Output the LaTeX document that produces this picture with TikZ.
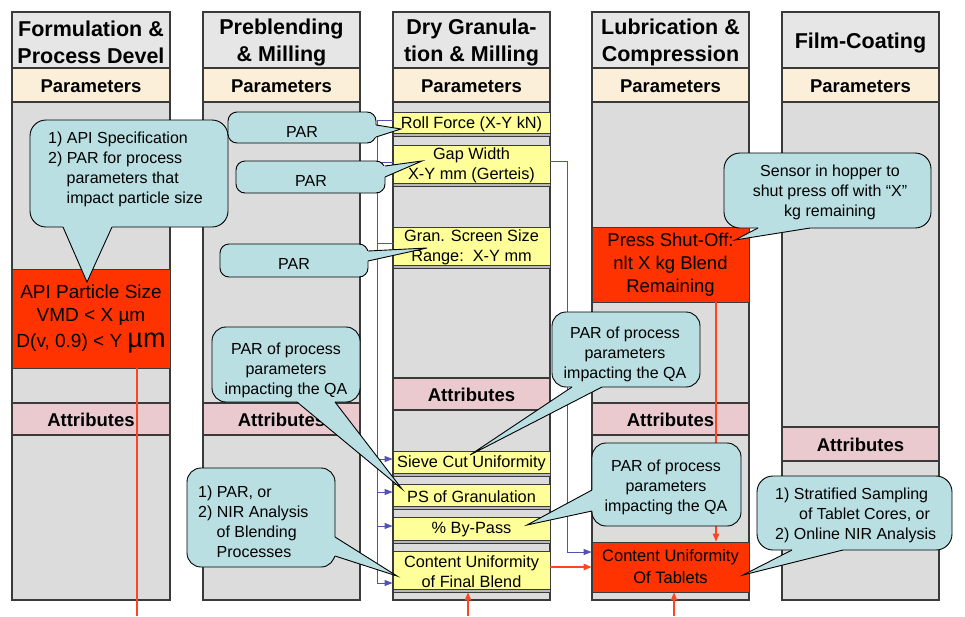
\documentclass[tikz,border=0pt]{standalone}
\usepackage{fontspec}
\setmainfont{Liberation Sans}
\usetikzlibrary{calc,arrows.meta}
\definecolor{hdr}{HTML}{E6E6E6}
\definecolor{prm}{HTML}{FBEFD9}
\definecolor{bod}{HTML}{DCDCDC}
\definecolor{att}{HTML}{EACACF}
\definecolor{yel}{HTML}{FFFF99}
\definecolor{redb}{HTML}{FF3300}
\definecolor{cal}{HTML}{B9DFE3}
\definecolor{bline}{HTML}{5252B4}
\definecolor{rline}{HTML}{FF4422}
\definecolor{edge}{HTML}{3A3A3A}
\newcommand\mycallout[7]{%
  \filldraw[callbody, rounded corners=#3] (#1) rectangle (#2);
  \fill[cal] (#4) -- (#5) -- (#6) -- ($(#6)+(#7)$) -- ($(#4)+(#7)$) -- cycle;
  \draw[callline] (#4) -- (#5) -- (#6);
}
\begin{document}
\begin{tikzpicture}[x=1pt,y=-1pt,
  colbox/.style={draw=edge, line width=1.1pt},
  bandtext/.style={font=\bfseries\fontsize{18.5}{22}\selectfont, inner sep=0pt},
  hdrtext/.style={font=\bfseries\fontsize{21.5}{27}\selectfont, align=center, inner sep=0pt},
  ybox/.style={draw=edge, line width=0.9pt, fill=yel, minimum width=157pt, inner sep=0pt, align=center,
    font=\fontsize{16.3}{20}\selectfont,
    path picture={\fill[black!28] (path picture bounding box.south west) rectangle ([yshift=3pt]path picture bounding box.south east);
      \draw[edge, line width=0.5pt] ([yshift=3pt]path picture bounding box.south west) -- ([yshift=3pt]path picture bounding box.south east);}},
  rbox/.style={draw=edge, line width=0.9pt, fill=redb, minimum width=157pt, inner sep=0pt, align=center,
    font=\fontsize{18.5}{23}\selectfont},
  callbody/.style={fill=cal, draw=black, line width=0.9pt},
  callline/.style={draw=black, line width=0.9pt, line join=miter},
  calltext/.style={font=\fontsize{16}{20}\selectfont, inner sep=0pt, align=center},
  bl/.style={draw=bline, line width=0.9pt},
  bla/.style={bl, -{Triangle[length=8pt,width=6pt]}},
  rl/.style={draw=rline, line width=1.3pt},
  rla/.style={rl, -{Triangle[length=8pt,width=6.5pt]}}
]
\fill[white] (0,0) rectangle (965,616);
\useasboundingbox (0,0) rectangle (965,616);

% columns
\foreach \xa/\xb/\at/\ab [count=\i] in {12/170/403/435, 203/360/403/435, 393/550/378/410, 592/749/403/435, 782/939/427/461}{
  \filldraw[fill=bod, colbox] (\xa,102) rectangle (\xb,600);
  \filldraw[fill=hdr, colbox] (\xa,12) rectangle (\xb,68);
  \filldraw[fill=prm, colbox] (\xa,68) rectangle (\xb,102);
  \filldraw[fill=att, colbox] (\xa,\at) rectangle (\xb,\ab);
  \node[bandtext] (par\i) at ({(\xa+\xb)/2},86) {Parameters};
  \node[bandtext] (att\i) at ({(\xa+\xb)/2},{(\at+\ab)/2+1}) {Attributes};
}

% headers
\node[hdrtext] (h1) at (91,42) {Formulation \&\\Process Devel};
\node[hdrtext] (h2) at (281.5,42) {Preblending\\\& Milling};
\node[hdrtext] (h3) at (471.5,42) {Dry Granula-\\tion \& Milling};
\node[hdrtext] (h4) at (670.5,42) {Lubrication \&\\Compression};
\node[hdrtext] (h5) at (860.5,43) {Film-Coating};

% yellow boxes
\node[ybox, minimum height=24pt] (roll) at (471.5,124) {Roll Force (X-Y kN)};
\node[ybox, minimum height=41pt] (gap) at (471.5,165.5) {Gap Width\\X-Y mm (Gerteis)};
\node[ybox, minimum height=41pt] (screen) at (471.5,247.5) {Gran. Screen Size\\Range:\ \ X-Y mm};
\node[ybox, minimum height=25pt] (sieve) at (471.5,463.5) {Sieve Cut Uniformity};
\node[ybox, minimum height=25pt] (ps) at (471.5,496.5) {PS of Granulation};
\node[ybox, minimum height=26pt] (bypass) at (471.5,530) {\% By-Pass};
\node[ybox, minimum height=41pt] (cufb) at (471.5,571.5) {Content Uniformity\\of Final Blend};

% red boxes
\node[rbox, minimum width=158pt, minimum height=99pt, font=\fontsize{19}{23}\selectfont] (api) at (91,318.5)
  {API Particle Size\\VMD < X µm\\[3pt]D(v, 0.9) < Y {\fontsize{27}{27}\selectfont µm}};
\node[rbox, minimum height=75pt] (press) at (670.5,264.5) {Press Shut-Off:\\nlt X kg Blend\\Remaining};
\node[rbox, minimum height=50pt, font=\fontsize{16.5}{22}\selectfont] (cut) at (670.5,567) {Content Uniformity\\Of Tablets};

% blue connectors
\coordinate (bustop) at (377,120);
\coordinate (busbot) at (377,583);
\coordinate (rbus) at (567,0);
\coordinate (rw) at ([yshift=4pt]roll.west);
\coordinate (gw) at ([yshift=3.5pt]gap.west);
\coordinate (sw) at ([yshift=4.5pt]screen.west);
\coordinate (a1) at ([yshift=4.5pt]sieve.west);
\coordinate (a2) at ([yshift=4.5pt]ps.west);
\coordinate (a3) at ([yshift=4pt]bypass.west);
\coordinate (a4) at ([yshift=-11.5pt]cufb.west);
\draw[bl] (rw) -- (rw -| bustop) -- (busbot);
\draw[bl] (gw) -- (gw -| bustop);
\draw[bl] (sw) -- (sw -| bustop);
\draw[bla] (a1 -| bustop) -- (a1);
\draw[bla] (a2 -| bustop) -- (a2);
\draw[bla] (a3 -| bustop) -- (a3);
\draw[bla] (a4 -| bustop) -- (a4);
\coordinate (ge) at ([yshift=4.5pt]gap.east);
\coordinate (ce) at ([yshift=15pt]cut.west);
\draw[bla] (ge) -- (ge -| rbus) -- (ce -| rbus) -- (ce);

% red connectors
\coordinate (pageb) at (0,616);
\coordinate (apis) at ([xshift=46pt]api.south);
\draw[rl] (apis) -- (apis |- pageb);
\coordinate (cf) at ([yshift=4.5pt]cufb.east);
\draw[rla] (cf) -- (cf -| cut.west);
\coordinate (up1) at (468,616);
\draw[rla] (up1) -- (up1 |- cufb.south);
\coordinate (up2) at (674,616);
\draw[rla] (up2) -- (up2 |- cut.south);
\coordinate (pss) at ([xshift=45.5pt]press.south);
\draw[rla] (pss) -- (pss |- cut.north);

% callouts
\mycallout{30,120}{228,227}{16pt}{63,227}{87,282}{112,227}{0,-2.5}
\node[calltext, align=left, anchor=west] (c1) at (48,169)
  {1) API Specification\\2) PAR for process\\\hspace*{18.5pt}parameters that\\\hspace*{18.5pt}impact particle size};

\mycallout{228,112}{376,143}{9pt}{376,125}{401,129}{376,137}{-2.5,0}
\node[calltext] (c2) at (302,132) {PAR};

\mycallout{236,161}{385,193}{9pt}{385,166}{422,161}{385,177}{-2.5,0}
\node[calltext] (c3) at (311,181) {PAR};

\mycallout{220,244}{368,277}{9pt}{368,251}{427,248}{368,261}{-2.5,0}
\node[calltext] (c4) at (294,264) {PAR};

\mycallout{212,327}{360,402}{14pt}{297,402}{402,489}{335,402}{0,-2.5}
\node[calltext] (c5) at (286,370) {PAR of process\\parameters\\impacting the QA};

\mycallout{552,312}{700,387}{14pt}{572,387}{470,455}{602,387}{0,-2.5}
\node[calltext] (c6) at (625,354) {PAR of process\\parameters\\impacting the QA};

\mycallout{592,443}{741,526}{14pt}{592,490}{527,525}{592,511}{2.5,0}
\node[calltext] (c7) at (666,487) {PAR of process\\parameters\\impacting the QA};

\mycallout{187,468}{335,567}{14pt}{335,537}{397,576}{335,556}{-2.5,0}
\node[calltext, align=left, anchor=west] (c8) at (198,522)
  {1) PAR, or\\2) NIR Analysis\\\hspace*{18.5pt}of Blending\\\hspace*{18.5pt}Processes};

\mycallout{724,153}{931,228}{16pt}{758,228}{735,240}{810,228}{0,-2.5}
\node[calltext] (c9) at (830,192) {Sensor in hopper to\\shut press off with “X”\\kg remaining};

\mycallout{757,476}{952,550}{16pt}{792,550}{743,575}{843,550}{0,-2.5}
\node[calltext, align=left, anchor=west] (c10) at (775,515)
  {1) Stratified Sampling\\\hspace*{24pt}of Tablet Cores, or\\2) Online NIR Analysis};
\end{tikzpicture}
\end{document}
